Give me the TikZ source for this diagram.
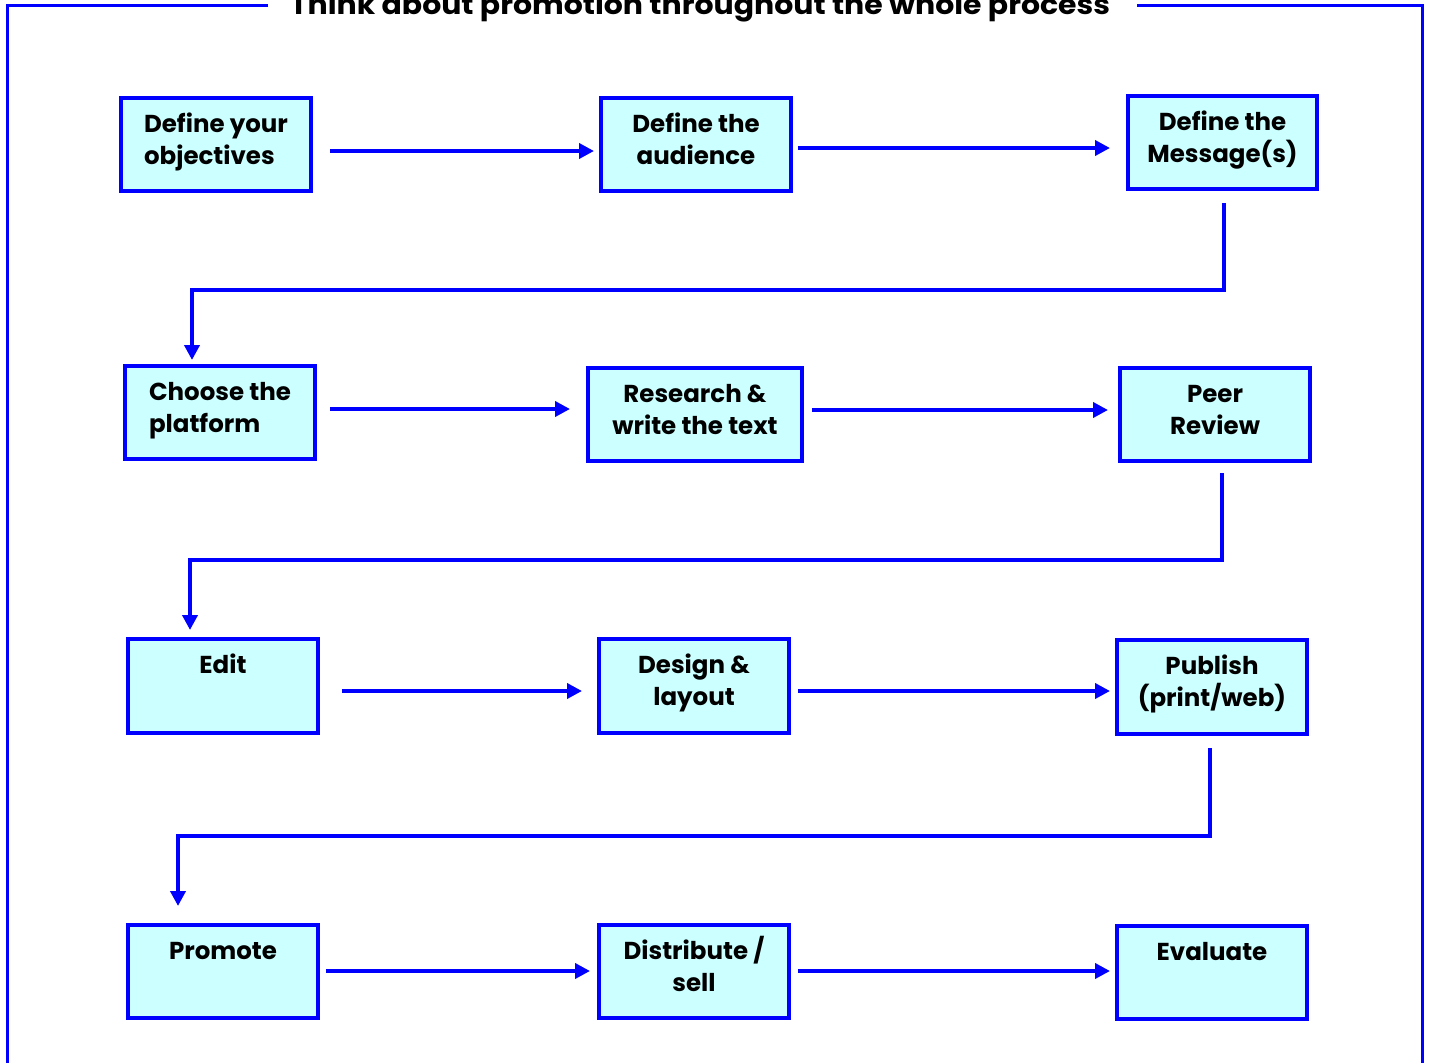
\documentclass[tikz,border=0pt]{standalone}
\usepackage{fontspec}
\setmainfont{Poppins}
\usetikzlibrary{arrows.meta}
\definecolor{bblue}{RGB}{0,0,255}
\definecolor{bfill}{RGB}{204,255,255}
\newcommand{\boxtxt}[4]{\parbox[t][#2][t]{#1}{\vspace*{11.6pt}\centering\begin{tabular}{@{}#3@{}}#4\end{tabular}}}
\tikzset{
  stepbox/.style={draw=bblue, fill=bfill, line width=4pt, inner sep=0pt, anchor=north west,
     font=\fontsize{24.5}{32}\selectfont\bfseries},
  arr/.style={draw=bblue, line width=4pt, -{Triangle[length=15pt,width=15pt]}},
  frame/.style={draw=bblue, line width=3pt}
}
\begin{document}
\begin{tikzpicture}[x=1pt,y=-1pt]
\useasboundingbox (0,0) rectangle (1430,1063);
\clip (0,0) rectangle (1430,1063);
\draw[frame] (268,5) -- (7,5) -- (7,1080);
\draw[frame] (1137,5) -- (1422,5) -- (1422,1080);
\node[anchor=base, inner sep=0pt] (title) at (700,14) {\resizebox{820pt}{22pt}{\bfseries Think about promotion throughout the whole process}};

\node[stepbox] (b1) at (119,96) {\boxtxt{190pt}{93pt}{l}{Define your\\objectives}};
\node[stepbox] (b2) at (599,96) {\boxtxt{190pt}{93pt}{c}{Define the\\audience}};
\node[stepbox] (b3) at (1126,94) {\boxtxt{189pt}{93pt}{c}{Define the\\Message(s)}};
\node[stepbox] (b4) at (123,364) {\boxtxt{190pt}{93pt}{l}{Choose the\\platform}};
\node[stepbox] (b5) at (586,366) {\boxtxt{214pt}{93pt}{c}{Research \&\\write the text}};
\node[stepbox] (b6) at (1118,366) {\boxtxt{190pt}{93pt}{c}{Peer\\Review}};
\node[stepbox] (b7) at (126,637) {\boxtxt{190pt}{94pt}{c}{Edit}};
\node[stepbox] (b8) at (597,637) {\boxtxt{190pt}{94pt}{c}{Design \&\\layout}};
\node[stepbox] (b9) at (1115,638) {\boxtxt{190pt}{94pt}{c}{Publish\\(print/web)}};
\node[stepbox] (b10) at (126,923) {\boxtxt{190pt}{93pt}{c}{Promote}};
\node[stepbox] (b11) at (597,923) {\boxtxt{190pt}{93pt}{c}{Distribute /\\sell}};
\node[stepbox] (b12) at (1115,924) {\boxtxt{190pt}{93pt}{c}{Evaluate}};

\draw[arr, shorten <=17pt, shorten >=5pt] (b1.east |- 0,151) -- (b2.west |- 0,151);
\draw[arr, shorten <=5pt, shorten >=16pt] (b2.east |- 0,148) -- (b3.west |- 0,148);
\draw[arr, shorten <=13pt, shorten >=16pt] (b4.east |- 0,409) -- (b5.west |- 0,409);
\draw[arr, shorten <=8pt, shorten >=10pt] (b5.east |- 0,410) -- (b6.west |- 0,410);
\draw[arr, shorten <=22pt, shorten >=15pt] (b7.east |- 0,691) -- (b8.west |- 0,691);
\draw[arr, shorten <=7pt, shorten >=5pt] (b8.east |- 0,691) -- (b9.west |- 0,691);
\draw[arr, shorten <=6pt, shorten >=7pt] (b10.east |- 0,971) -- (b11.west |- 0,971);
\draw[arr, shorten <=7pt, shorten >=5pt] (b11.east |- 0,971) -- (b12.west |- 0,971);

\draw[arr] ([xshift=1.5pt,yshift=-12pt]b3.south) -- ++(0,87) -| ([xshift=-28pt,yshift=4pt]b4.north);
\draw[arr] ([xshift=7pt,yshift=-10pt]b6.south) -- ++(0,87) -| ([xshift=-33pt,yshift=7pt]b7.north);
\draw[arr] ([xshift=-2pt,yshift=-12pt]b9.south) -- ++(0,88) -| ([xshift=-45pt,yshift=17pt]b10.north);
\end{tikzpicture}
\end{document}
